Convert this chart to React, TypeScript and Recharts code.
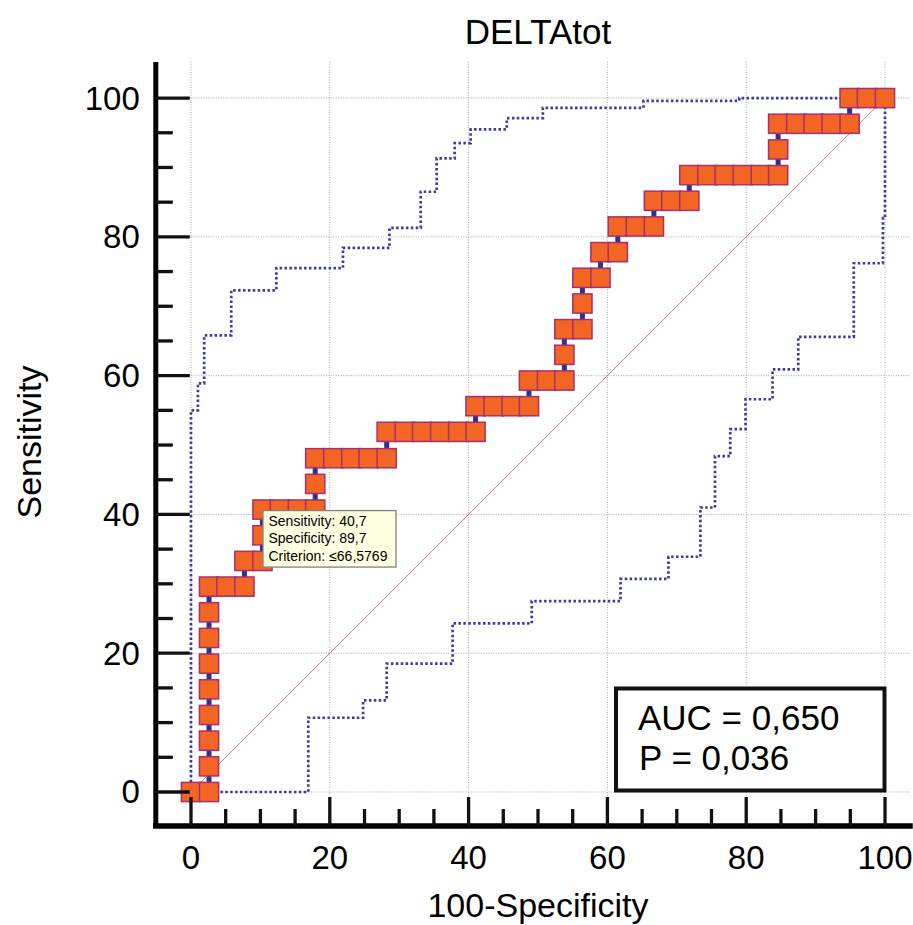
import React from 'react';
import { ComposedChart, Line, XAxis, YAxis, CartesianGrid } from 'recharts';

// ROC curve points (100-Specificity, Sensitivity), in %
const rocX = [0, 2.6, 2.6, 2.6, 2.6, 2.6, 2.6, 2.6, 2.6, 2.6, 5.1, 7.7, 7.7, 10.3, 10.3, 10.3, 12.8, 15.4, 17.9, 17.9, 17.9, 20.5, 23.1, 25.6, 28.2, 28.2, 30.8, 33.3, 35.9, 38.5, 41.0, 41.0, 43.6, 46.2, 48.7, 48.7, 51.3, 53.8, 53.8, 53.8, 56.4, 56.4, 56.4, 59.0, 59.0, 61.5, 61.5, 64.1, 66.7, 66.7, 69.2, 71.8, 71.8, 74.4, 76.9, 79.5, 82.1, 84.6, 84.6, 84.6, 87.2, 89.7, 92.3, 94.9, 94.9, 97.4, 100];
const rocY = [0, 0, 3.7, 7.4, 11.1, 14.8, 18.5, 22.2, 25.9, 29.6, 29.6, 29.6, 33.3, 33.3, 37.0, 40.7, 40.7, 40.7, 40.7, 44.4, 48.1, 48.1, 48.1, 48.1, 48.1, 51.9, 51.9, 51.9, 51.9, 51.9, 51.9, 55.6, 55.6, 55.6, 55.6, 59.3, 59.3, 59.3, 63.0, 66.7, 66.7, 70.4, 74.1, 74.1, 77.8, 77.8, 81.5, 81.5, 81.5, 85.2, 85.2, 85.2, 88.9, 88.9, 88.9, 88.9, 88.9, 88.9, 92.6, 96.3, 96.3, 96.3, 96.3, 96.3, 100, 100, 100];

// Upper confidence bound (corner points, vertical-then-horizontal steps)
const upperX = [0, 1.0, 1.9, 5.8, 12.3, 21.9, 28.6, 33.1, 35.4, 38.0, 40.3, 45.5, 50.7, 65.2, 79.0, 100];
const upperY = [0, 55.0, 58.9, 65.8, 72.3, 75.5, 78.4, 81.3, 86.5, 91.3, 93.5, 95.5, 97.1, 98.6, 99.6, 100];

// Lower confidence bound (corner points, horizontal-then-vertical steps)
const lowerX = [0, 16.9, 24.8, 28.2, 37.7, 49.1, 61.9, 68.8, 73.4, 75.5, 77.7, 79.9, 83.8, 87.5, 95.5, 99.7, 100];
const lowerY = [0, 10.7, 13.2, 18.5, 24.3, 27.5, 30.7, 33.9, 41.0, 48.4, 52.3, 56.6, 60.9, 65.6, 76.2, 82.7, 100];

// Reference diagonal
const diagX = [0, 100];
const diagY = [0, 100];

// Highlighted point (tooltip)
const tipX = [10.3];
const tipY = [40.7];
const tipSpecificity = 89.7;
const tipCriterion = '≤66,5769';

const xTicks = [0, 5, 10, 15, 20, 25, 30, 35, 40, 45, 50, 55, 60, 65, 70, 75, 80, 85, 90, 95, 100];
const yTicks = [0, 5, 10, 15, 20, 25, 30, 35, 40, 45, 50, 55, 60, 65, 70, 75, 80, 85, 90, 95, 100];
const gridValues = [0, 20, 40, 60, 80, 100];

const TITLE = 'DELTAtot';
const X_LABEL = '100-Specificity';
const Y_LABEL = 'Sensitivity';
const AUC_TEXT = 'AUC = 0,650';
const P_TEXT = 'P = 0,036';

const zip = (xs: number[], ys: number[]) => xs.map((x, i) => ({ x, y: ys[i] }));
const rocData = zip(rocX, rocY);
const upperData = zip(upperX, upperY);
const lowerData = zip(lowerX, lowerY);
const diagData = zip(diagX, diagY);
const tipData = zip(tipX, tipY);

const FONT = '"Liberation Sans", Arial, Helvetica, sans-serif';
const fmt = (v: number) => v.toFixed(1).replace('.', ',');

const XTick = (props: any) => {
  const { x, y, payload } = props;
  const v = payload.value;
  const major = v % 20 === 0;
  return (
    <g>
      <line x1={x} x2={x} y1={y} y2={y - (major ? 29 : 17)} stroke="#111" strokeWidth={3.3} />
      {major && (
        <text x={x} y={y + 43} textAnchor="middle" fontSize={33} fontFamily={FONT} fill="#000">
          {v}
        </text>
      )}
    </g>
  );
};

const YTick = (props: any) => {
  const { x, y, payload } = props;
  const v = payload.value;
  const major = v % 20 === 0;
  return (
    <g>
      <line x1={x} x2={x + (major ? 34 : 17)} y1={y} y2={y} stroke="#111" strokeWidth={3.3} />
      {major && (
        <text x={x - 16} y={y + 11.5} textAnchor="end" fontSize={33} fontFamily={FONT} fill="#000">
          {v}
        </text>
      )}
    </g>
  );
};

const SquareDot = (props: any) => {
  const { cx, cy, index } = props;
  if (cx == null || cy == null) return <g key={`s${index}`} />;
  return (
    <rect
      key={`s${index}`}
      x={cx - 9.6}
      y={cy - 9.6}
      width={19.2}
      height={19.2}
      fill="#F26522"
      stroke="#A8306E"
      strokeWidth={1.5}
    />
  );
};

const TipDot = (props: any) => {
  const { cx, cy, index, payload } = props;
  if (cx == null || cy == null) return <g key={`t${index}`} />;
  return (
    <g key={`t${index}`}>
      <rect x={cx + 0.5} y={cy + 1} width={133} height={56.5} fill="#FFFFE1" stroke="#808080" strokeWidth={1.3} />
      <text fontFamily={FONT} fontSize={14} fill="#000">
        <tspan x={cx + 6} y={cy + 16.5}>{`Sensitivity: ${fmt(payload.y)}`}</tspan>
        <tspan x={cx + 6} y={cy + 33.5}>{`Specificity: ${fmt(tipSpecificity)}`}</tspan>
        <tspan x={cx + 6} y={cy + 51}>{`Criterion: ${tipCriterion}`}</tspan>
      </text>
    </g>
  );
};

export default function App() {
  const W = 905;
  const H = 917;
  return (
    <div style={{ position: 'relative', width: 913, height: 925, overflow: 'hidden', background: '#fff' }}>
      <style>{'html,body{margin:0;padding:0;}'}</style>
      <div style={{ position: 'absolute', left: 8, top: 8, width: W, height: H }}>
        <ComposedChart
          width={W}
          height={H}
          margin={{ top: 54, right: 3, bottom: 9, left: 7.8 }}
          style={{ overflow: 'visible' }}
        >
          <CartesianGrid
            horizontalValues={gridValues}
            verticalValues={gridValues}
            stroke="#a8a8a8"
            strokeDasharray="1 1.5"
            strokeWidth={1}
          />
          <XAxis
            type="number"
            dataKey="x"
            domain={[-5.07, 103.6]}
            allowDataOverflow
            ticks={xTicks}
            interval={0}
            tickSize={0}
            tickMargin={0}
            tickLine={false}
            height={90}
            axisLine={{ stroke: '#000', strokeWidth: 5.5, strokeLinecap: 'square' }}
            tick={<XTick />}
          />
          <YAxis
            type="number"
            dataKey="y"
            domain={[-4.9, 105.2]}
            allowDataOverflow
            ticks={yTicks}
            interval={0}
            tickSize={0}
            tickMargin={0}
            tickLine={false}
            width={140}
            axisLine={{ stroke: '#000', strokeWidth: 5 }}
            tick={<YTick />}
          />
          <Line
            data={diagData}
            dataKey="y"
            type="linear"
            stroke="#CC7F7F"
            strokeWidth={1}
            dot={false}
            activeDot={false}
            isAnimationActive={false}
          />
          <Line
            data={upperData}
            dataKey="y"
            type="stepBefore"
            stroke="#3C3C9C"
            strokeWidth={2.7}
            strokeDasharray="2.5 2.4"
            dot={false}
            activeDot={false}
            isAnimationActive={false}
          />
          <Line
            data={lowerData}
            dataKey="y"
            type="stepAfter"
            stroke="#3C3C9C"
            strokeWidth={2.7}
            strokeDasharray="2.5 2.4"
            dot={false}
            activeDot={false}
            isAnimationActive={false}
          />
          <Line
            data={rocData}
            dataKey="y"
            type="linear"
            stroke="#2E3192"
            strokeWidth={5}
            dot={SquareDot}
            activeDot={false}
            isAnimationActive={false}
          />
          <Line
            data={tipData}
            dataKey="y"
            type="linear"
            stroke="none"
            dot={TipDot}
            activeDot={false}
            isAnimationActive={false}
          />
        </ComposedChart>
        <svg
          width={W}
          height={H}
          style={{ position: 'absolute', left: 0, top: 0, pointerEvents: 'none', overflow: 'visible' }}
        >
          <text x={530} y={36} textAnchor="middle" fontSize={35} fontFamily={FONT} fill="#000">
            {TITLE}
          </text>
          <text x={530} y={909} textAnchor="middle" fontSize={34} fontFamily={FONT} fill="#000">
            {X_LABEL}
          </text>
          <text
            x={33}
            y={434}
            textAnchor="middle"
            fontSize={34}
            fontFamily={FONT}
            fill="#000"
            transform="rotate(-90 33 434)"
          >
            {Y_LABEL}
          </text>
          <rect x={608} y={680.5} width={268.5} height={102} fill="#fff" stroke="#111" strokeWidth={4} />
          <text x={630} y={722} fontSize={35} fontFamily={FONT} fill="#000">
            {AUC_TEXT}
          </text>
          <text x={631} y={762} fontSize={35} fontFamily={FONT} fill="#000">
            {P_TEXT}
          </text>
        </svg>
      </div>
    </div>
  );
}
